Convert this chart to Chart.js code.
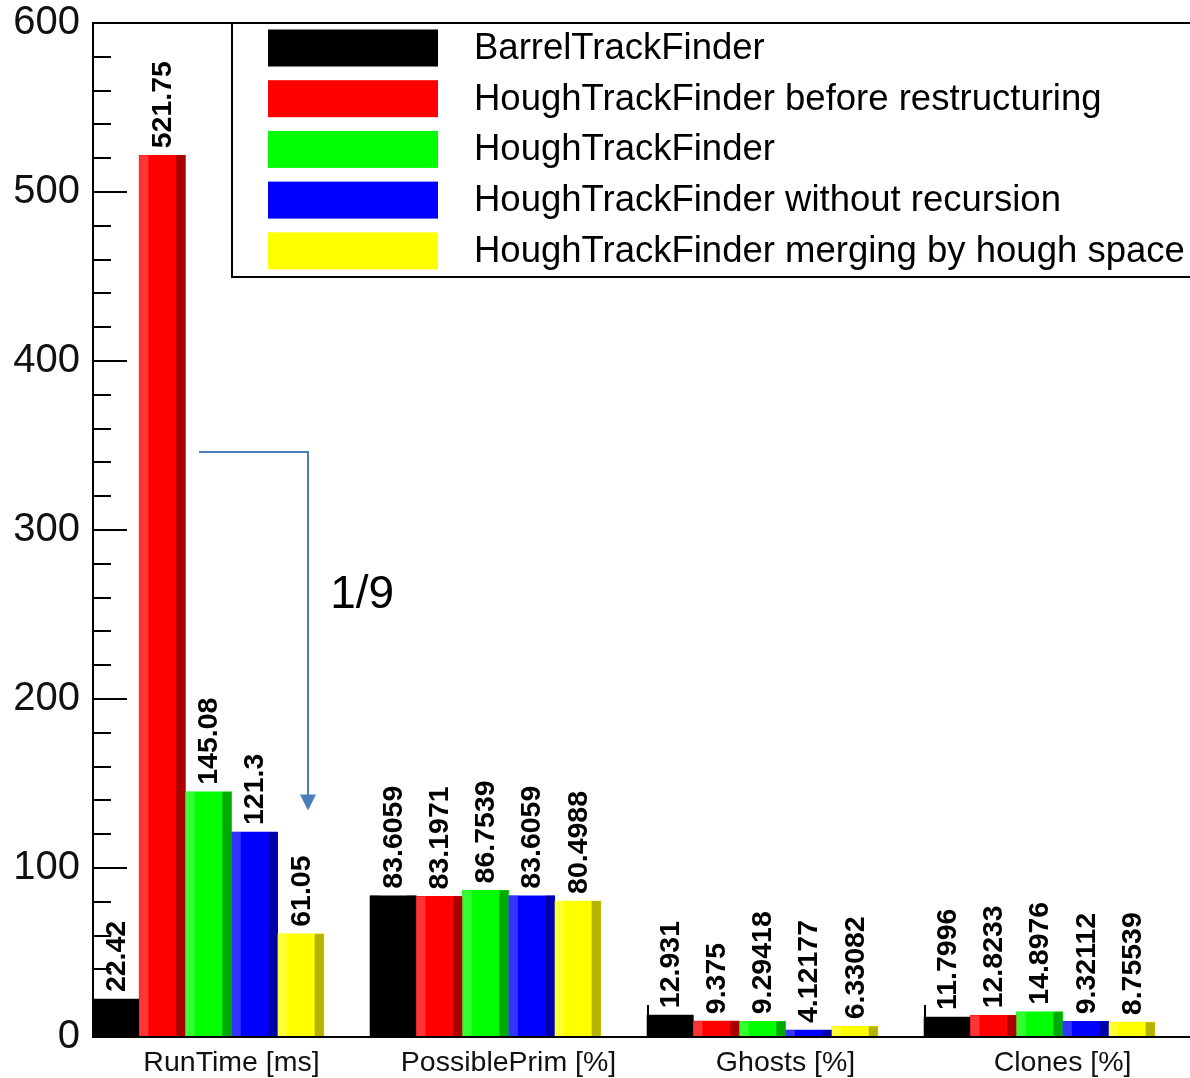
<!DOCTYPE html>
<html lang="en">
<head>
<meta charset="utf-8">
<title>TrackFinder comparison</title>
<script src="https://cdn.jsdelivr.net/npm/chart.js@4.4.1/dist/chart.umd.min.js"></script>
<style>
    html, body { margin: 0; padding: 0; background: #fff; }
    #grafico { display: block; }
</style>
</head>
<body>
<canvas id="grafico" width="1190" height="1078"></canvas>
<script>
/**
 * Comparación de TrackFinders — barras agrupadas estilo ROOT
 */

// Datos
const categorias = ['RunTime [ms]', 'PossiblePrim [%]', 'Ghosts [%]', 'Clones [%]'];
const nombresSeries = [
    'BarrelTrackFinder',
    'HoughTrackFinder before restructuring',
    'HoughTrackFinder',
    'HoughTrackFinder without recursion',
    'HoughTrackFinder merging by hough space'
];
const barrel = [22.42, 83.6059, 12.931, 11.7996];
const houghAntes = [521.75, 83.1971, 9.375, 12.8233];
const hough = [145.08, 86.7539, 9.29418, 14.8976];
const houghSinRecursion = [121.3, 83.6059, 4.12177, 9.32112];
const houghMerging = [61.05, 80.4988, 6.33082, 8.75539];
const ticksY = [0, 100, 200, 300, 400, 500, 600];

const colores = ['#000000', '#ff0000', '#00ff00', '#0000ff', '#ffff00'];
const coloresClaros = ['#000000', '#ff3434', '#34ff34', '#3434ff', '#ffff34'];
const coloresOscuros = ['#000000', '#aa0000', '#00aa00', '#0000aa', '#b4b400'];

// Flecha "1/9" en coordenadas de datos
const flecha = { x0: 0.383, x1: 0.776, yArriba: 346, yPunta: 134 };
const textoFlecha = { x: 0.856, y: 254, texto: '1/9' };

const ranuras = 6; // 5 barras + un hueco por bin

Chart.defaults.font.family = '"Liberation Sans", Arial, Helvetica, sans-serif';
Chart.defaults.color = '#000';

function armarDatasets() {
    const valores = [barrel, houghAntes, hough, houghSinRecursion, houghMerging];
    return valores.map((serie, k) => ({
        label: nombresSeries[k],
        data: serie.map((v, i) => ({ x: i + (k + 0.5) / ranuras, y: v })),
        backgroundColor: colores[k],
        borderWidth: 0,
        grouped: false,
        barPercentage: 1,
        categoryPercentage: 1
    }));
}

// Marcas de los ejes (debajo de las barras)
const pluginMarcas = {
    id: 'marcas',
    beforeDatasetsDraw(chart) {
        const { ctx, chartArea: area, scales: { x, y } } = chart;
        ctx.save();
        ctx.strokeStyle = '#000';
        ctx.lineWidth = 2;
        ctx.beginPath();
        for (let v = 0; v <= 600; v += 20) {
            const py = Math.round(y.getPixelForValue(v));
            const largo = v % 100 === 0 ? 34 : 18;
            ctx.moveTo(area.left, py);
            ctx.lineTo(area.left + largo, py);
        }
        for (let i = 1; i < categorias.length; i++) {
            const px = Math.round(x.getPixelForValue(i)) + 1;
            ctx.moveTo(px, area.bottom);
            ctx.lineTo(px, area.bottom - 32);
        }
        ctx.stroke();
        ctx.restore();
    }
};

// Franjas claras/oscuras, ejes y etiquetas de valor
const pluginBarras = {
    id: 'barras',
    afterDatasetsDraw(chart) {
        const { ctx, chartArea: area } = chart;
        ctx.save();

        chart.data.datasets.forEach((ds, k) => {
            const meta = chart.getDatasetMeta(k);
            meta.data.forEach((barra, i) => {
                const { x, y, base, width } = barra.getProps(['x', 'y', 'base', 'width'], true);
                const izq = x - width / 2;
                ctx.fillStyle = coloresClaros[k];
                ctx.fillRect(izq, y, width * 0.2, base - y);
                ctx.fillStyle = coloresOscuros[k];
                ctx.fillRect(izq + width * 0.8, y, width * 0.2, base - y);
            });
        });

        // Marco: eje izquierdo, inferior y línea superior
        ctx.strokeStyle = '#000';
        ctx.lineWidth = 2;
        ctx.beginPath();
        ctx.moveTo(area.right, area.top);
        ctx.lineTo(area.left, area.top);
        ctx.lineTo(area.left, area.bottom);
        ctx.lineTo(area.right, area.bottom);
        ctx.stroke();

        // Valores rotados sobre cada barra
        ctx.fillStyle = '#000';
        ctx.font = 'bold 28.5px "Liberation Sans", Arial, sans-serif';
        ctx.textAlign = 'left';
        ctx.textBaseline = 'middle';
        chart.data.datasets.forEach((ds, k) => {
            const meta = chart.getDatasetMeta(k);
            meta.data.forEach((barra, i) => {
                const { x, y } = barra.getProps(['x', 'y'], true);
                ctx.save();
                ctx.translate(x, y - 7);
                ctx.rotate(-Math.PI / 2);
                ctx.fillText(String(ds.data[i].y), 0, 1);
                ctx.restore();
            });
        });
        ctx.restore();
    }
};

// Leyenda en caja y flecha de anotación
const pluginLeyenda = {
    id: 'leyenda',
    afterDraw(chart) {
        const { ctx, scales: { x, y } } = chart;
        ctx.save();

        ctx.fillStyle = '#fff';
        ctx.fillRect(232, 23, 980, 254);
        ctx.strokeStyle = '#000';
        ctx.lineWidth = 2;
        ctx.strokeRect(232, 23, 980, 254);

        ctx.font = '36.5px "Liberation Sans", Arial, sans-serif';
        ctx.textAlign = 'left';
        ctx.textBaseline = 'middle';
        chart.data.datasets.forEach((ds, k) => {
            const cy = 48 + k * 50.7;
            ctx.fillStyle = ds.backgroundColor;
            ctx.fillRect(268, cy - 18.5, 170, 37);
            ctx.fillStyle = '#000';
            ctx.fillText(ds.label, 474, cy + 1);
        });

        // Flecha
        const px0 = x.getPixelForValue(flecha.x0);
        const px1 = Math.round(x.getPixelForValue(flecha.x1));
        const pyA = Math.round(y.getPixelForValue(flecha.yArriba));
        const pyP = y.getPixelForValue(flecha.yPunta);
        ctx.strokeStyle = '#4a7ebb';
        ctx.fillStyle = '#4a7ebb';
        ctx.lineWidth = 2;
        ctx.beginPath();
        ctx.moveTo(px0, pyA);
        ctx.lineTo(px1, pyA);
        ctx.lineTo(px1, pyP - 12);
        ctx.stroke();
        ctx.beginPath();
        ctx.moveTo(px1 - 8, pyP - 16);
        ctx.lineTo(px1 + 8, pyP - 16);
        ctx.lineTo(px1, pyP);
        ctx.closePath();
        ctx.fill();

        ctx.fillStyle = '#000';
        ctx.font = '46px "Liberation Sans", Arial, sans-serif';
        ctx.textBaseline = 'alphabetic';
        ctx.fillText(textoFlecha.texto, x.getPixelForValue(textoFlecha.x), y.getPixelForValue(textoFlecha.y));
        ctx.restore();
    }
};

function inicializarGrafico() {
    const ctx = document.getElementById('grafico').getContext('2d');

    new Chart(ctx, {
        type: 'bar',
        data: { datasets: armarDatasets() },
        options: {
            responsive: false,
            animation: false,
            devicePixelRatio: 1,
            layout: { padding: { top: 23, right: 0, bottom: 0, left: 0 } },
            plugins: {
                legend: { display: false },
                tooltip: { enabled: false }
            },
            scales: {
                x: {
                    type: 'linear',
                    min: 0,
                    max: 3.96,
                    offset: false,
                    grid: { display: false, drawTicks: false, offset: false },
                    border: { display: false },
                    afterBuildTicks: (scale) => {
                        scale.ticks = categorias.map((c, i) => ({ value: i + 0.5 }));
                    },
                    afterFit: (scale) => {
                        scale.height = 41;
                        scale.paddingLeft = 0;
                        scale.paddingRight = 0;
                    },
                    ticks: {
                        autoSkip: false,
                        maxRotation: 0,
                        minRotation: 0,
                        padding: 9,
                        color: '#111',
                        font: { size: 28.5 },
                        callback: (v, i) => categorias[i]
                    }
                },
                y: {
                    min: 0,
                    max: 600,
                    grid: { display: false, drawTicks: false },
                    border: { display: false },
                    afterBuildTicks: (scale) => {
                        scale.ticks = ticksY.map(v => ({ value: v }));
                    },
                    afterFit: (scale) => {
                        scale.width = 93;
                        scale.paddingTop = 0;
                        scale.paddingBottom = 0;
                    },
                    ticks: {
                        padding: 13,
                        color: '#111',
                        font: { size: 40 }
                    }
                }
            }
        },
        plugins: [pluginMarcas, pluginBarras, pluginLeyenda]
    });
}

document.addEventListener('DOMContentLoaded', inicializarGrafico);
</script>
</body>
</html>
